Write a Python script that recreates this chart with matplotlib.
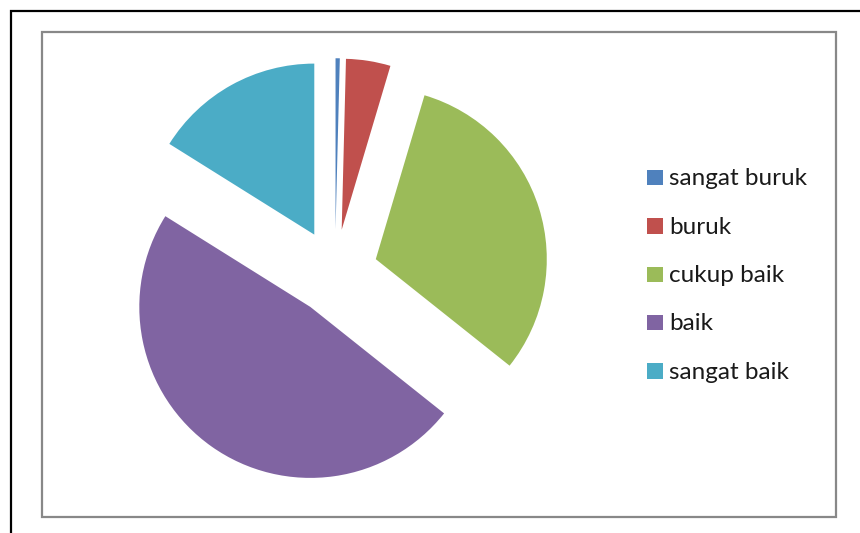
import matplotlib
matplotlib.use("Agg")
import matplotlib.pyplot as plt
from matplotlib.patches import Rectangle

# Survey response shares (percent)
categories = ["sangat buruk", "buruk", "cukup baik", "baik", "sangat baik"]
shares = [0.4, 4.2, 31.1, 48.2, 16.1]
colors = ["#4F81BD", "#C0504D", "#9BBB59", "#8064A2", "#4BACC6"]

W, H = 860, 533
fig = plt.figure(figsize=(W / 100, H / 100), dpi=100)
fig.patch.set_facecolor("white")

# pie occupies the whole canvas; 1 data unit = 171 px, centre at (335, 272) px
R = 171.0
cx, cy = 335.0, H - 272.0
ax = fig.add_axes([0, 0, 1, 1])
wedges, _ = ax.pie(
    shares,
    colors=colors,
    startangle=90,
    counterclock=False,
    explode=[0.25] * len(shares),
    wedgeprops=dict(linewidth=0, antialiased=True),
)
ax.set_xlim(-cx / R, (W - cx) / R)
ax.set_ylim(-cy / R, (H - cy) / R)
ax.set_aspect("auto")
ax.axis("off")


def px_rect(x0, y0, x1, y1, **kw):
    """Rectangle given in pixel coordinates measured from the top-left."""
    return Rectangle((x0 / W, 1 - y1 / H), (x1 - x0) / W, (y1 - y0) / H,
                     transform=fig.transFigure, **kw)


# outer chart frame (black) and plot-area frame (grey)
fig.patches.append(px_rect(11, 10.5, 880, 560, fill=False,
                           edgecolor="black", linewidth=1.6))
fig.patches.append(px_rect(41.7, 31.5, 835.7, 516.7, fill=False,
                           edgecolor="#888888", linewidth=1.6))

# legend: coloured key squares with labels, one row per category
row0, row_step = 178.0, 48.3
for i, (label, color) in enumerate(zip(categories, colors)):
    yc = row0 + i * row_step
    fig.patches.append(px_rect(646.5, yc - 8, 662.5, yc + 7.5,
                               facecolor=color, edgecolor="none"))
    fig.text(669 / W, 1 - (yc + 1) / H, label, ha="left", va="center",
             family="Lato", fontsize=17.5, color="#1a1a1a")

fig.savefig("out.png", dpi=100, facecolor="white")
